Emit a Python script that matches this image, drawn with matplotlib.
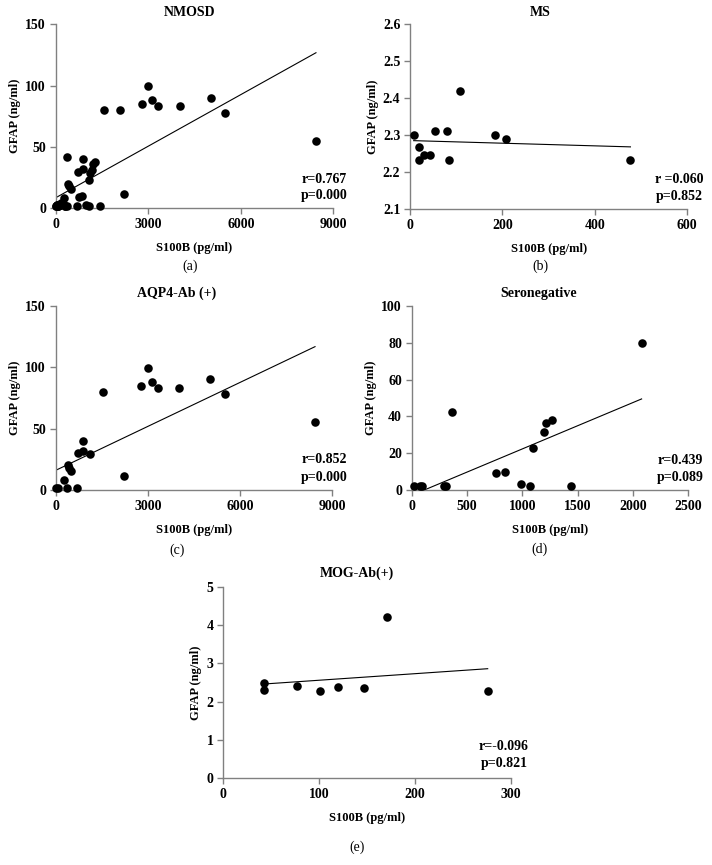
import numpy as np
import matplotlib
matplotlib.use("Agg")
import matplotlib.pyplot as plt

plt.rcParams["font.family"] = ["Liberation Serif", "DejaVu Serif"]

# ── data ─────────────────────────────────────────────────────────────────────
# AQP4-Ab (+)
aqp4_x = [20, 60, 282, 380, 390, 420, 490, 680, 716, 890, 890, 1117, 1550,
          2212, 2787, 3004, 3124, 3330, 4024, 5022, 5499, 8438]
aqp4_y = [2, 2, 8, 2, 20, 18, 15.5, 2, 30, 32, 40, 29, 80,
          11.4, 85, 99.5, 88, 83, 83, 90, 78, 55]

# Seronegative
sero_x = [24, 75, 90, 295, 307, 364, 765, 843, 988, 1072, 1093, 1193, 1214,
          1265, 1440, 2078]
sero_y = [2.2, 2.2, 2.0, 2.0, 2.0, 42.2, 9, 10, 3, 2, 23, 31.3, 36.2,
          38, 2, 80]

# MOG-Ab(+)
mog_x = [42, 42, 77, 101, 120, 147, 171, 276]
mog_y = [2.50, 2.30, 2.41, 2.29, 2.39, 2.35, 4.21, 2.29]

# MS
ms_x = [8, 19, 19, 30, 43, 54, 81, 84, 109, 183, 207, 477]
ms_y = [2.300, 2.267, 2.234, 2.245, 2.245, 2.310, 2.310, 2.234, 2.420,
        2.300, 2.289, 2.234]

# NMOSD = all NMOSD subgroups
nmosd_x = aqp4_x + sero_x + mog_x
nmosd_y = aqp4_y + sero_y + mog_y

# fitted lines (intercept, slope) as drawn in the figure
fit_nmosd = (8.6, 0.01401)
fit_ms = (2.2853, -0.0000359)
fit_aqp4 = (16.0, 0.01193)
fit_sero = (-2.87, 0.0252)
fit_mog = (2.388, 0.00171)

stats_nmosd = ("r=0.767", "p=0.000")
stats_ms = ("r =0.060", "p=0.852")
stats_aqp4 = ("r=0.852", "p=0.000")
stats_sero = ("r=0.439", "p=0.089")
stats_mog = ("r=-0.096", "p=0.821")

# ── figure ───────────────────────────────────────────────────────────────────
W, H = 712, 865
fig = plt.figure(figsize=(W / 100, H / 100), dpi=100)
fig.patch.set_facecolor("white")

GREY = "#808080"
FS = 10      # ticks, titles, stats
FS_LAB = 9   # axis labels


def px_axes(x0, x1, ytop, ybot):
    return fig.add_axes([x0 / W, 1 - ybot / H, (x1 - x0) / W, (ybot - ytop) / H])


def panel(ax, xs, ys, fit, stats, title, label, xlim, xticks, ylim, yticks,
          yfmt, rx, ry, py, label_xy, title_y):
    ax.scatter(xs, ys, s=38, color="black", zorder=3, clip_on=False,
               linewidths=0)
    x = np.array([min(xs), max(xs)])
    ax.plot(x, fit[0] + fit[1] * x, color="black", lw=0.8, zorder=2)
    ax.set_xlim(*xlim)
    ax.set_ylim(*ylim)
    ax.set_xticks(xticks)
    ax.set_yticks(yticks)
    ax.set_yticklabels([yfmt.format(v) for v in yticks])
    for s in ("top", "right"):
        ax.spines[s].set_visible(False)
    for s in ("left", "bottom"):
        ax.spines[s].set_color(GREY)
        ax.spines[s].set_linewidth(1.0)
    ax.tick_params(direction="out", length=4, width=1.0, color=GREY,
                   labelsize=FS, pad=3)
    for t in ax.get_xticklabels() + ax.get_yticklabels():
        t.set_fontweight("bold")
    ax.set_xlabel("S100B (pg/ml)", fontsize=FS_LAB, fontweight="bold",
                  labelpad=8)
    ax.set_ylabel("GFAP (ng/ml)", fontsize=FS_LAB, fontweight="bold",
                  labelpad=3)
    ax.text(rx, ry, stats[0], transform=ax.transAxes, ha="right", va="center",
            fontsize=FS, fontweight="bold")
    ax.text(rx, py, stats[1], transform=ax.transAxes, ha="right", va="center",
            fontsize=FS, fontweight="bold")
    fig.text(label_xy[0] / W, 1 - title_y / H, title, ha="center",
             va="center", fontsize=FS, fontweight="bold")
    fig.text(label_xy[0] / W, 1 - label_xy[1] / H, label, ha="center",
             va="center", fontsize=FS)


ax_a = px_axes(55.7, 333.3, 24.3, 208.3)
panel(ax_a, nmosd_x, nmosd_y, fit_nmosd, stats_nmosd, "NMOSD", "(a)",
      (0, 9000), [0, 3000, 6000, 9000], (0, 150), [0, 50, 100, 150], "{:.0f}",
      1.05, 0.154, 0.072, (190, 266), 13)

ax_b = px_axes(410, 687.3, 24.3, 209)
panel(ax_b, ms_x, ms_y, fit_ms, stats_ms, "MS", "(b)",
      (0, 600), [0, 200, 400, 600], (2.1, 2.6),
      [2.1, 2.2, 2.3, 2.4, 2.5, 2.6], "{:.1f}",
      1.057, 0.162, 0.065, (540, 266), 13)

ax_c = px_axes(55.7, 332.3, 305.7, 490)
panel(ax_c, aqp4_x, aqp4_y, fit_aqp4, stats_aqp4, "AQP4-Ab (+)", "(c)",
      (0, 9000), [0, 3000, 6000, 9000], (0, 150), [0, 50, 100, 150], "{:.0f}",
      1.054, 0.163, 0.069, (177, 550), 293)

ax_d = px_axes(411.7, 688.3, 306, 490)
panel(ax_d, sero_x, sero_y, fit_sero, stats_sero, "Seronegative", "(d)",
      (0, 2500), [0, 500, 1000, 1500, 2000, 2500], (0, 100),
      [0, 20, 40, 60, 80, 100], "{:.0f}",
      1.054, 0.163, 0.069, (539, 549), 293)

ax_e = px_axes(223.3, 510.7, 586.7, 778.3)
panel(ax_e, mog_x, mog_y, fit_mog, stats_mog, "MOG-Ab(+)", "(e)",
      (0, 300), [0, 100, 200, 300], (0, 5), [0, 1, 2, 3, 4, 5], "{:.0f}",
      1.061, 0.165, 0.078, (357, 847), 573)

fig.savefig("out.png", dpi=100, facecolor="white")
